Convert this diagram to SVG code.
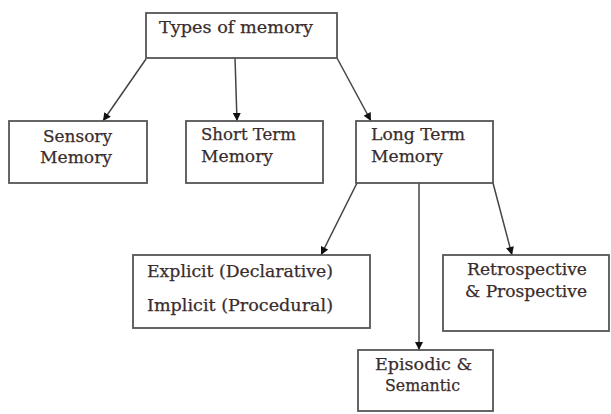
<svg xmlns="http://www.w3.org/2000/svg" width="611" height="414" viewBox="0 0 611 414">
  <defs>
    <marker id="arr" viewBox="0 0 10 10" refX="10" refY="5" markerWidth="9" markerHeight="8" markerUnits="userSpaceOnUse" orient="auto">
      <path d="M0,0 L10,5 L0,10 Z" fill="#111"/>
    </marker>
  </defs>
  <style>
    .box { fill: #ffffff; stroke: #555555; stroke-width: 1.8; }
    .lbl { font-size: 17px; fill: #3a2c2c; stroke: #3a2c2c; stroke-width: 0.25; }
    .conn line { stroke: #444444; stroke-width: 1.5; marker-end: url(#arr); }
  </style>
  <rect x="0" y="0" width="611" height="414" fill="#ffffff"/>
  <g id="connectors" class="conn">
    <line x1="146" y1="59" x2="103" y2="121"/>
    <line x1="235" y1="58" x2="237" y2="121"/>
    <line x1="337" y1="58" x2="371" y2="121"/>
    <line x1="357" y1="183" x2="321" y2="255"/>
    <line x1="419" y1="183" x2="419" y2="350"/>
    <line x1="493" y1="183" x2="512" y2="255"/>
  </g>
  <g id="nodes" font-family="'DejaVu Serif', 'Liberation Serif', serif">
  <g id="types">
    <rect class="box" x="146" y="13" width="191" height="45"/>
    <text class="lbl" x="159" y="33" textLength="154" lengthAdjust="spacingAndGlyphs">Types of memory</text>
  </g>
  <g id="sensory">
    <rect class="box" x="9" y="121" width="138" height="62"/>
    <text class="lbl" x="43" y="142" textLength="69" lengthAdjust="spacingAndGlyphs">Sensory</text>
    <text class="lbl" x="40" y="163" textLength="72" lengthAdjust="spacingAndGlyphs">Memory</text>
  </g>
  <g id="short">
    <rect class="box" x="186" y="121" width="137" height="62"/>
    <text class="lbl" x="201" y="140" textLength="95" lengthAdjust="spacingAndGlyphs">Short Term</text>
    <text class="lbl" x="201" y="162" textLength="72" lengthAdjust="spacingAndGlyphs">Memory</text>
  </g>
  <g id="long">
    <rect class="box" x="356" y="121" width="137" height="62"/>
    <text class="lbl" x="371" y="140" textLength="94" lengthAdjust="spacingAndGlyphs">Long Term</text>
    <text class="lbl" x="371" y="162" textLength="72" lengthAdjust="spacingAndGlyphs">Memory</text>
  </g>
  <g id="explicit">
    <rect class="box" x="133" y="255" width="237" height="73"/>
    <text class="lbl" x="147" y="277" textLength="186" lengthAdjust="spacingAndGlyphs">Explicit (Declarative)</text>
    <text class="lbl" x="147" y="311" textLength="186" lengthAdjust="spacingAndGlyphs">Implicit (Procedural)</text>
  </g>
  <g id="retro">
    <rect class="box" x="443" y="255" width="166" height="76"/>
    <text class="lbl" x="467" y="275" textLength="120" lengthAdjust="spacingAndGlyphs">Retrospective</text>
    <text class="lbl" x="465" y="297" textLength="122" lengthAdjust="spacingAndGlyphs">&amp; Prospective</text>
  </g>
  <g id="episodic">
    <rect class="box" x="358" y="350" width="135" height="61"/>
    <text class="lbl" x="375" y="370" textLength="97" lengthAdjust="spacingAndGlyphs">Episodic &amp;</text>
    <text class="lbl" x="385" y="391" textLength="75" lengthAdjust="spacingAndGlyphs">Semantic</text>
  </g>
  </g>
</svg>
